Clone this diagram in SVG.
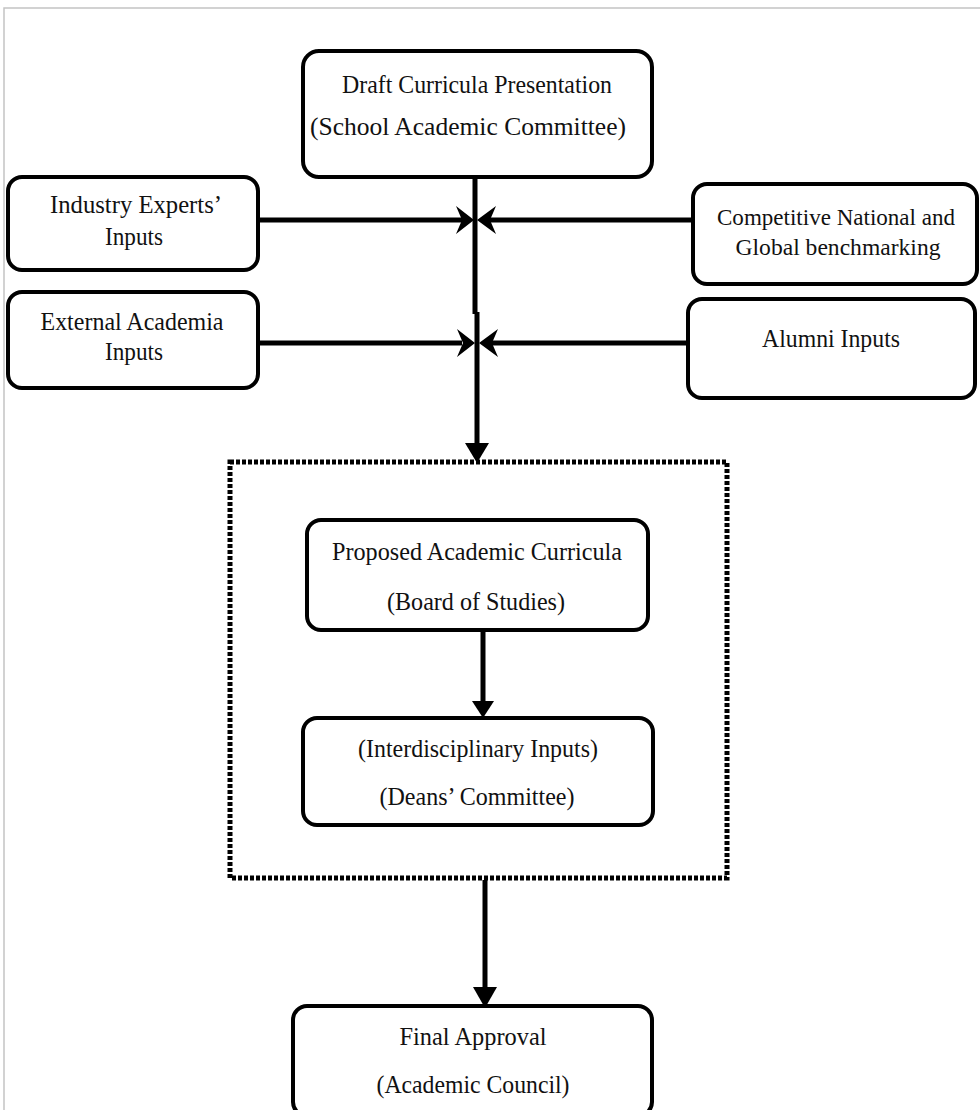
<svg xmlns="http://www.w3.org/2000/svg" width="980" height="1110" viewBox="0 0 980 1110">
<style>
.box{fill:#fff;stroke:#000;stroke-width:4}
.t{font-family:"Liberation Serif","Times New Roman",serif;font-size:26px;fill:#111;text-anchor:middle}
.s{font-size:24px}
.ln{stroke:#000;stroke-width:5;fill:none}
.ah{fill:#000}
</style>
<rect x="0" y="0" width="980" height="1110" fill="#fff"/>
<path d="M4,1110 V8 H980" fill="none" stroke="#c4c4c4" stroke-width="1.5"/>

<g id="connectors">
<line class="ln" x1="475" y1="177" x2="475" y2="314"/>
<line class="ln" x1="477" y1="312" x2="477" y2="446"/>
<path class="ah" d="M465,443 L489,443 L477,463 Z"/>
<line class="ln" x1="258" y1="220" x2="462" y2="220"/>
<path class="ah" d="M474,220 L456,206 L462,220 L456,234 Z"/>
<line class="ln" x1="693" y1="220" x2="490" y2="220"/>
<path class="ah" d="M477,220 L496,206 L490,220 L496,234 Z"/>
<line class="ln" x1="258" y1="343" x2="462" y2="343"/>
<path class="ah" d="M475,343 L457,329 L463,343 L457,357 Z"/>
<line class="ln" x1="688" y1="343" x2="492" y2="343"/>
<path class="ah" d="M479,343 L498,329 L492,343 L498,357 Z"/>
<line class="ln" x1="483" y1="630" x2="483" y2="704"/>
<path class="ah" d="M472,701 L494,701 L483,718 Z"/>
<line class="ln" x1="485" y1="880" x2="485" y2="990"/>
<path class="ah" d="M473,987 L497,987 L485,1008 Z"/>
</g>

<g id="group-box">
<rect x="230" y="462" width="497" height="416" fill="none" stroke="#000" stroke-width="5" stroke-dasharray="4 2"/>
</g>

<g id="draft">
<rect class="box" x="303" y="51" width="349" height="126" rx="16"/>
<text class="t" x="477" y="93" textLength="270" lengthAdjust="spacingAndGlyphs">Draft Curricula Presentation</text>
<text class="t" x="468" y="135" textLength="316" lengthAdjust="spacingAndGlyphs">(School Academic Committee)</text>
</g>

<g id="industry">
<rect class="box" x="8" y="177" width="250" height="93" rx="14"/>
<text class="t" x="136" y="213" textLength="172" lengthAdjust="spacingAndGlyphs">Industry Experts’</text>
<text class="t" x="134" y="245" textLength="58" lengthAdjust="spacingAndGlyphs">Inputs</text>
</g>

<g id="external">
<rect class="box" x="8" y="292" width="250" height="96" rx="14"/>
<text class="t" x="132" y="330" textLength="183" lengthAdjust="spacingAndGlyphs">External Academia</text>
<text class="t" x="134" y="360" textLength="58" lengthAdjust="spacingAndGlyphs">Inputs</text>
</g>

<g id="competitive">
<rect class="box" x="693" y="184" width="284" height="100" rx="14"/>
<text class="t s" x="836" y="225" textLength="238" lengthAdjust="spacingAndGlyphs">Competitive National and</text>
<text class="t s" x="838" y="255" textLength="205" lengthAdjust="spacingAndGlyphs">Global benchmarking</text>
</g>

<g id="alumni">
<rect class="box" x="688" y="299" width="287" height="99" rx="14"/>
<text class="t" x="831" y="347" textLength="138" lengthAdjust="spacingAndGlyphs">Alumni Inputs</text>
</g>

<g id="proposed">
<rect class="box" x="307" y="520" width="341" height="110" rx="14"/>
<text class="t" x="477" y="560" textLength="290" lengthAdjust="spacingAndGlyphs">Proposed Academic Curricula</text>
<text class="t" x="476" y="610" textLength="178" lengthAdjust="spacingAndGlyphs">(Board of Studies)</text>
</g>

<g id="deans">
<rect class="box" x="303" y="718" width="350" height="107" rx="14"/>
<text class="t" x="478" y="757" textLength="240" lengthAdjust="spacingAndGlyphs">(Interdisciplinary Inputs)</text>
<text class="t" x="477" y="805" textLength="195" lengthAdjust="spacingAndGlyphs">(Deans’ Committee)</text>
</g>

<g id="final">
<rect class="box" x="293" y="1006" width="359" height="110" rx="14"/>
<text class="t" x="473" y="1045" textLength="147" lengthAdjust="spacingAndGlyphs">Final Approval</text>
<text class="t" x="473" y="1093" textLength="193" lengthAdjust="spacingAndGlyphs">(Academic Council)</text>
</g>
</svg>
